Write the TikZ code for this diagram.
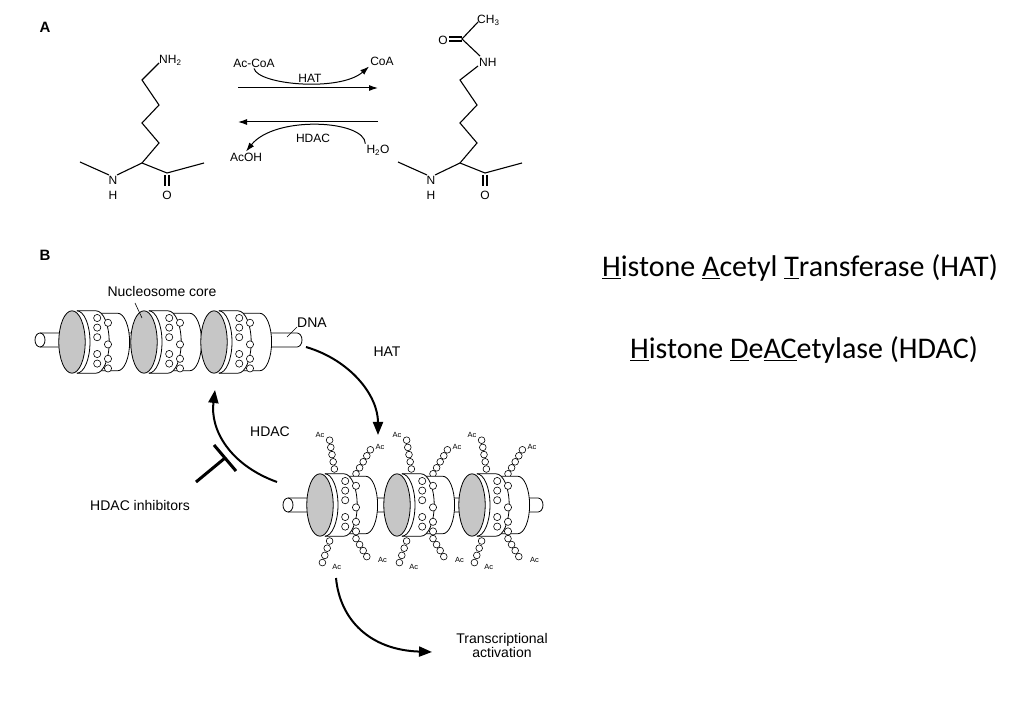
\documentclass[tikz,border=0pt]{standalone}
\usepackage{fontspec}
\setmainfont{Liberation Sans}
\newfontfamily\calib{Carlito}
\usetikzlibrary{arrows.meta,calc}

\tikzset{
  bond/.style={line width=1.1pt},
  rxn/.style={line width=1pt,-{Latex[length=9pt,width=6pt]}},
  cyc/.style={line width=2pt,-{Triangle[length=13pt,width=10pt]}},
  lbl/.style={font=\fontsize{12}{12}\selectfont,inner sep=1pt},
  blbl/.style={font=\fontsize{14}{14}\selectfont,inner sep=1pt},
  tiny/.style={font=\fontsize{7.5}{7.5}\selectfont,inner sep=0.5pt},
  bead/.style={draw,fill=white,line width=0.6pt},
  tube/.style={draw,fill=white,line width=0.8pt},
  big/.style={font=\calib\fontsize{30}{30}\selectfont},
}

% one nucleosome, drawn back to front
\newcommand\nucl[2]{%
  \begin{scope}[shift={(#1,#2)},scale=1.2,line width=0.8pt]
    \draw[fill=white] (22,-24) -- (38,-24) arc[start angle=-90,end angle=90,x radius=10,y radius=24] -- (22,24);
    \draw[fill=white] (4,-26) -- (20,-26) arc[start angle=-90,end angle=90,x radius=11,y radius=26] -- (4,26);
    \draw[fill=gray!45] (0,0) ellipse[x radius=11,y radius=26];
    \draw (4,-26) arc[start angle=-90,end angle=90,x radius=11,y radius=26];
    \foreach \by in {-20,-12,-4,10,18} {\draw[bead] (21,\by) circle(3);}
    \foreach \by in {-16,2,14,22} {\draw[bead] (30,\by) circle(3);}
  \end{scope}}

% acetylated tails of one nucleosome
\newcommand\actails[2]{%
  \begin{scope}[shift={(#1,#2)},scale=1.2]
    \foreach \i in {0,...,4} {\draw[bead] (12-\i,-30-6*\i) circle(2.8);}
    \node[tiny] at (0,-58) {Ac};
    \foreach \i in {0,...,4} {\draw[bead] (30+3*\i,-26-5*\i) circle(2.8);}
    \node[tiny] at (50,-48) {Ac};
    \foreach \i in {0,...,3} {\draw[bead] (8-2*\i,30+6*\i) circle(2.8);}
    \node[tiny] at (14,52) {Ac};
    \foreach \i in {0,...,3} {\draw[bead] (30+3*\i,28+5*\i) circle(2.8);}
    \node[tiny] at (52,46) {Ac};
  \end{scope}}

\begin{document}
\begin{tikzpicture}[x=1pt,y=-1pt]
\useasboundingbox (0,0) rectangle (1034,708);

% panel A
\node[font=\bfseries\fontsize{15}{15}\selectfont] (labA) at (45,27) {A};
\begin{scope}[xshift=12]
\draw[bond] (68,162) -- (97,175) (105,175) -- (130,163) -- (155,173) -- (192,163);
\draw[bond] (130,163) -- (147,143) -- (130,123) -- (147,105) -- (130,80) -- (147,63);
\draw[bond] (153,175) -- (153,186) (157,175) -- (157,186);
\node[lbl] (nA) at (101,180) {N};
\node[lbl] (hA) at (101,195) {H};
\node[lbl] (oA) at (155,195) {O};
\node[lbl,anchor=west] (nh2) at (146,60) {NH\textsubscript{2}};
\end{scope}

\begin{scope}[xshift=330]
\draw[bond] (68,162) -- (97,175) (105,175) -- (130,163) -- (155,173) -- (192,163);
\draw[bond] (130,163) -- (147,143) -- (130,123) -- (147,105) -- (130,80) -- (148,66);
\draw[bond] (153,175) -- (153,186) (157,175) -- (157,186);
\draw[bond] (150,56) -- (132,39) -- (148,22);
\draw[bond] (132,37) -- (119,37) (132,41) -- (119,41);
\node[lbl] (nB) at (101,180) {N};
\node[lbl] (hB) at (101,195) {H};
\node[lbl] (oB) at (155,195) {O};
\node[lbl,anchor=west] (nh) at (148,62) {NH};
\node[lbl] (oC) at (113,40) {O};
\node[lbl,anchor=west] (ch3) at (146,20) {CH\textsubscript{3}};
\end{scope}

\coordinate (f1) at (238,88);  \coordinate (f2) at (378,88);
\coordinate (b1) at (378,122); \coordinate (b2) at (238,122);
\draw[rxn] (f1) -- (f2);
\draw[rxn] (b1) -- (b2);
\node[lbl] (acoa) at (254,63) {Ac-CoA};
\node[lbl] (coa) at (382,61) {CoA};
\node[lbl] (hat) at (310,78) {HAT};
\node[lbl] (hdacA) at (313,138) {HDAC};
\node[lbl] (acoh) at (246,157) {AcOH};
\node[lbl] (h2o) at (378,150) {H\textsubscript{2}O};
\draw[rxn] (acoa.south) .. controls (258,85) and (340,92) .. (coa.south west);
\draw[rxn] (h2o.north west) .. controls (365,120) and (275,115) .. (acoh.north);

% panel B
\node[font=\bfseries\fontsize{15}{15}\selectfont] (labB) at (45,255) {B};
\draw[tube] (40,333) -- (297,333) arc[start angle=-90,end angle=90,x radius=5,y radius=7] -- (40,347);
\draw[line width=0.8pt] (40,340) ellipse[x radius=5,y radius=7];
\foreach \nx in {72,144,214} {\nucl{\nx}{342}}
\node[blbl] (nuc) at (162,291) {Nucleosome core};
\draw[line width=0.6pt] (135,303) -- (142,318);
\node[blbl] (dna) at (312,323) {DNA};
\draw[line width=0.6pt] (297,327) -- (287,337);

\draw[tube] (288,498) -- (538,498) arc[start angle=-90,end angle=90,x radius=5,y radius=7] -- (288,512);
\draw[line width=0.8pt] (288,505) ellipse[x radius=5,y radius=7];
\foreach \nx in {320,397,472} {\actails{\nx}{505}}
\foreach \nx in {320,397,472} {\nucl{\nx}{505}}

\node[blbl] (hatB) at (387,352) {HAT};
\node[blbl] (hdacB) at (270,432) {HDAC};
\node[blbl] (inh) at (140,505) {HDAC inhibitors};
\node[blbl,align=center] (tact) at (502,645) {Transcriptional\\activation};

\coordinate (hs) at (306,347); \coordinate (he) at (378,435);
\draw[cyc] (hs) .. controls (350,360) and (378,395) .. (he);
\coordinate (ds) at (277,482); \coordinate (de) at (215,390);
\draw[cyc] (ds) .. controls (230,465) and (210,430) .. (de);
\coordinate (is) at (196,482); \coordinate (ie) at (225,458);
\draw[line width=3pt] (is) -- (ie);
\draw[line width=3pt] ($(ie)+(-11,-13)$) -- ($(ie)+(11,13)$);
\coordinate (ts) at (336,578); \coordinate (te) at (432,652);
\draw[cyc] (ts) .. controls (340,620) and (370,650) .. (te);

% right-hand text
\node[big] (hatT) at (800,268)
  {\underline{H}istone \underline{A}cetyl \underline{T}ransferase (HAT)};
\node[big] (hdacT) at (804,350)
  {\underline{H}istone \underline{D}e\underline{AC}etylase (HDAC)};
\end{tikzpicture}
\end{document}
